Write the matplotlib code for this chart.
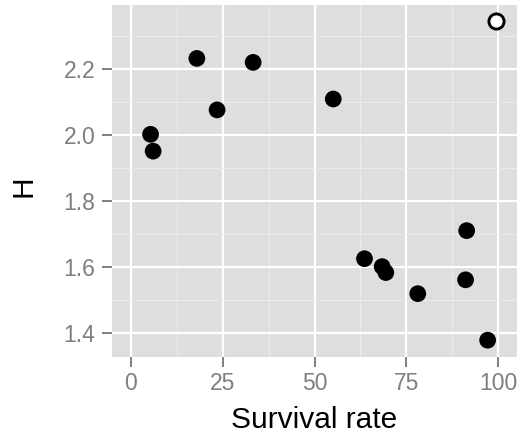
import matplotlib
matplotlib.use("Agg")
import matplotlib.pyplot as plt
from matplotlib.ticker import MultipleLocator

plt.rcParams['font.family'] = ['Liberation Sans', 'DejaVu Sans']

# filled points
survival = [5.4, 6.1, 18.0, 23.5, 33.3, 55.1, 63.6, 68.4, 69.4, 78.1, 91.1, 91.4, 97.1]
H = [2.003, 1.952, 2.233, 2.077, 2.221, 2.110, 1.626, 1.602, 1.584, 1.520, 1.562, 1.711, 1.379]
# open point
survival_open = [99.3]
H_open = [2.346]

fig = plt.figure(figsize=(5.21, 4.37), dpi=100)
ax = fig.add_axes([0.2156, 0.1838, 0.7761, 0.8048])
ax.set_facecolor('#DEDEDE')

ax.set_xlim(-5.0, 105.0)
ax.set_ylim(1.329, 2.395)
ax.xaxis.set_major_locator(MultipleLocator(25))
ax.xaxis.set_minor_locator(MultipleLocator(12.5))
ax.yaxis.set_minor_locator(MultipleLocator(0.1))
ax.set_yticks([1.4, 1.6, 1.8, 2.0, 2.2])
ax.set_yticklabels(['1.4', '1.6', '1.8', '2.0', '2.2'])

ax.grid(which='major', color='white', linewidth=1.6)
ax.grid(which='minor', color='#EEEEEE', linewidth=0.6)
ax.set_axisbelow(True)
for s in ax.spines.values():
    s.set_visible(False)

ax.tick_params(which='major', length=7.3, width=1.4, color='#7F7F7F',
               labelsize=16.5, labelcolor='#7F7F7F')
ax.tick_params(axis='x', pad=3.6)
ax.tick_params(axis='y', pad=5)
ax.tick_params(which='minor', length=0)

ax.scatter(survival, H, s=145, color='black', edgecolors='none', zorder=3)
ax.scatter(survival_open, H_open, s=119, facecolor='white', edgecolors='black',
           linewidths=2.1, zorder=3)

ax.set_xlabel('Survival rate', fontsize=21.5)
ax.set_ylabel('H', fontsize=21.5)
ax.xaxis.set_label_coords(0.5, -0.140)
ax.yaxis.set_label_coords(-0.184, 0.485)

fig.savefig('out.png', dpi=100)
